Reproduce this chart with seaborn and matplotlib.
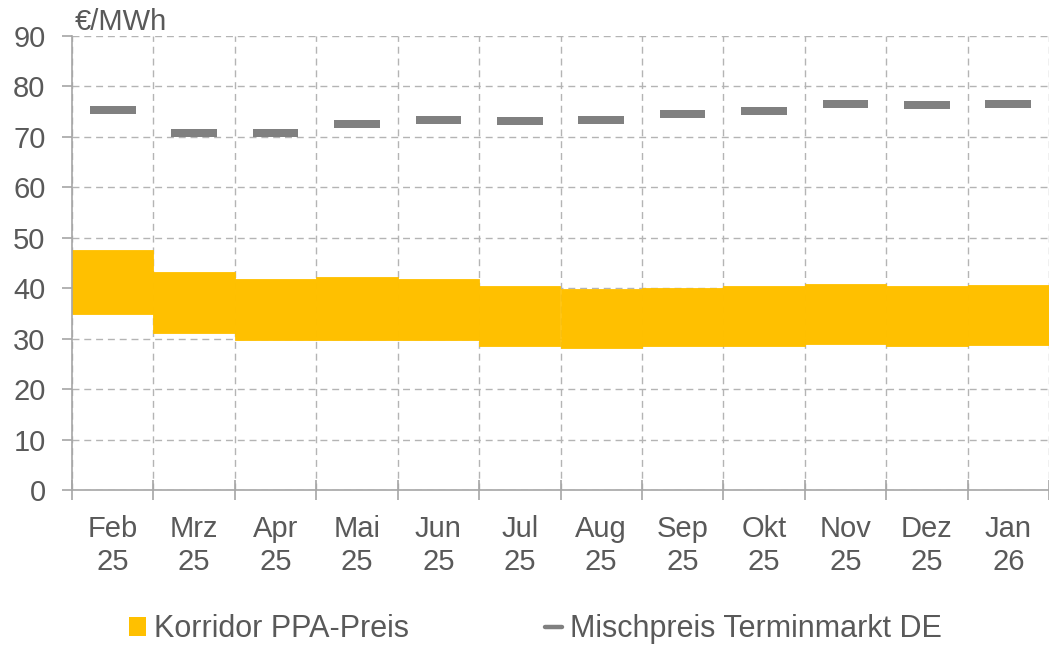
import numpy as np
import pandas as pd
import matplotlib
matplotlib.use("Agg")
import matplotlib.pyplot as plt
from matplotlib.patches import Patch
from matplotlib.lines import Line2D
import seaborn as sns

# data
months = ["Feb\n25", "Mrz\n25", "Apr\n25", "Mai\n25", "Jun\n25", "Jul\n25",
          "Aug\n25", "Sep\n25", "Okt\n25", "Nov\n25", "Dez\n25", "Jan\n26"]
ppa_low = [34.8, 31.1, 29.7, 29.7, 29.7, 28.5, 28.1, 28.5, 28.5, 29.0, 28.5, 28.8]
ppa_high = [47.6, 43.3, 41.9, 42.2, 41.9, 40.4, 39.9, 40.1, 40.4, 40.9, 40.4, 40.7]
mischpreis = [75.4, 70.8, 70.8, 72.5, 73.4, 73.1, 73.4, 74.5, 75.1, 76.5, 76.3, 76.5]
yticks = list(range(0, 100, 10))

gold = "#FFC000"
dash_grey = "#808080"
text_grey = "#595959"
grid_grey = "#b4b4b4"
fs = 21

df = pd.DataFrame({"month": months, "low": ppa_low, "high": ppa_high, "mix": mischpreis})
df["span"] = df["high"] - df["low"]
dash_h = 1.6
df["mix_bottom"] = df["mix"] - dash_h / 2
df["mix_h"] = dash_h

sns.set_theme(style="white")
plt.rcParams["font.family"] = ["Liberation Sans", "DejaVu Sans"]

fig = plt.figure(figsize=(10.49, 6.46), dpi=100)
ax = fig.add_axes([72 / 1049, 1 - 490 / 646, (1049 - 72) / 1049, (490 - 36) / 646])

# PPA corridor as floating bars
sns.barplot(data=df, x="month", y="span", bottom=df["low"], width=1.0, color=gold,
            saturation=1, errorbar=None, linewidth=0.6, edgecolor=gold, ax=ax, zorder=2)
# futures blend price as short thick dashes
sns.barplot(data=df, x="month", y="mix_h", bottom=df["mix_bottom"], width=0.56,
            color=dash_grey, saturation=1, errorbar=None, linewidth=0, ax=ax, zorder=3)

ax.set_ylim(0, 90)
ax.set_xlim(-0.5, 11.43)
ax.set_yticks(yticks)
ax.set_xlabel("")
ax.set_ylabel("")

ax.set_xticks(np.arange(-0.5, 12, 1), minor=True)
ax.set_axisbelow(True)
ax.grid(True, which="major", axis="y", color=grid_grey, linestyle=(0, (5, 3.5)), linewidth=1)
ax.grid(True, which="minor", axis="x", color=grid_grey, linestyle=(0, (5, 3.5)), linewidth=1)
ax.grid(False, which="major", axis="x")

for side in ["top", "right"]:
    ax.spines[side].set_visible(False)
for side in ["left", "bottom"]:
    ax.spines[side].set_color("#a6a6a6")
    ax.spines[side].set_linewidth(1.2)

ax.tick_params(axis="y", which="major", direction="out", length=7, width=1.2, color="#a6a6a6",
               labelsize=fs, labelcolor=text_grey, pad=12, left=True)
ax.tick_params(axis="x", which="major", length=0, labelsize=fs, labelcolor=text_grey, pad=18)
ax.tick_params(axis="x", which="minor", direction="inout", length=14, width=1.2, color="#a6a6a6",
               bottom=True)
for lbl in ax.get_xticklabels():
    lbl.set_linespacing(1.22)

ax.annotate("€/MWh", xy=(0, 1), xycoords="axes fraction", xytext=(2, 0),
            textcoords="offset points", ha="left", va="bottom", fontsize=fs, color=text_grey)

handles = [Patch(facecolor=gold, edgecolor="none"),
           Line2D([0], [0], color=dash_grey, lw=3.2)]
fig.legend(handles, ["Korridor PPA-Preis", "Mischpreis Terminmarkt DE"], loc="center left",
           bbox_to_anchor=(129 / 1049, 1 - 629 / 646), ncol=2, frameon=False, fontsize=22,
           labelcolor=text_grey, handlelength=0.56, handleheight=0.56, handletextpad=0.26,
           columnspacing=4.45, borderpad=0, borderaxespad=0)

fig.savefig("out.png", dpi=100)
